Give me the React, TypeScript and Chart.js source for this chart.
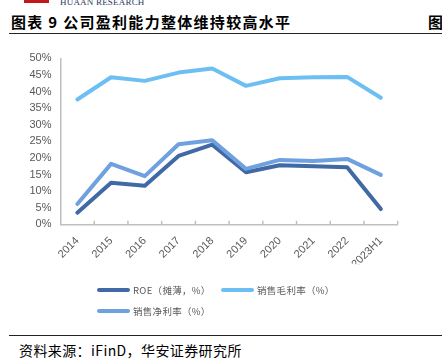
import React, { useEffect, useRef } from 'react';
import { Chart, registerables } from 'chart.js';

Chart.register(...registerables);

const categories = ['2014', '2015', '2016', '2017', '2018', '2019', '2020', '2021', '2022', '2023H1'];
const roe = [3.5, 12.5, 11.6, 20.6, 24.0, 15.7, 17.8, 17.5, 17.2, 4.6];
const grossMargin = [37.6, 44.3, 43.2, 45.7, 46.9, 41.7, 44.0, 44.3, 44.4, 38.1];
const netMargin = [6.1, 18.2, 14.5, 24.1, 25.3, 16.7, 19.4, 19.1, 19.7, 14.9];
const seriesNames = ['ROE（摊薄，%）', '销售毛利率（%）', '销售净利率（%）'];
const seriesColors = ['#4169a6', '#6dbff3', '#6fa1de'];
const yMin = 0;
const yMax = 50;
const yStep = 5;

const innerTicks = {
  id: 'innerTicks',
  afterDraw(chart: any) {
    const sx = chart.scales.x;
    const ctx = chart.ctx;
    ctx.save();
    ctx.strokeStyle = '#bfbfbf';
    ctx.lineWidth = 1.5;
    const n = categories.length;
    for (let i = 1; i <= n; i++) {
      const x = sx.getPixelForValue(i - 0.5);
      ctx.beginPath();
      ctx.moveTo(x, sx.top);
      ctx.lineTo(x, sx.top - 3.5);
      ctx.stroke();
    }
    ctx.restore();
  },
};

function LineChart() {
  const ref = useRef<HTMLCanvasElement>(null);
  useEffect(() => {
    if (!ref.current) return;
    const chart = new Chart(ref.current, {
      type: 'line',
      data: {
        labels: categories,
        datasets: [
          { label: seriesNames[0], data: roe, borderColor: seriesColors[0], order: 1 },
          { label: seriesNames[1], data: grossMargin, borderColor: seriesColors[1], order: 2 },
          { label: seriesNames[2], data: netMargin, borderColor: seriesColors[2], order: 0 },
        ].map((d) => ({
          ...d,
          borderWidth: 4,
          pointRadius: 0,
          tension: 0,
          fill: false,
          borderCapStyle: 'round' as const,
          borderJoinStyle: 'round' as const,
        })),
      },
      options: {
        animation: false,
        responsive: false,
        maintainAspectRatio: false,
        layout: { padding: { top: 58.3, left: 0, right: 44.3, bottom: 35.7 } },
        plugins: { legend: { display: false }, tooltip: { enabled: false } },
        scales: {
          x: {
            offset: true,
            grid: { display: false },
            border: { display: true, color: '#bfbfbf', width: 1.5 },
            ticks: {
              autoSkip: false,
              minRotation: 45,
              maxRotation: 45,
              padding: 2,
              color: '#595959',
              font: { family: "'Liberation Sans', Arial, sans-serif", size: 11 },
            },
            afterFit(scale: any) {
              scale.height = 40;
            },
          },
          y: {
            min: yMin,
            max: yMax,
            grid: { display: false, drawTicks: false },
            border: { display: true, color: '#bfbfbf', width: 1.5 },
            ticks: {
              stepSize: yStep,
              padding: 9,
              color: '#595959',
              font: { family: "'Liberation Sans', Arial, sans-serif", size: 11 },
              callback: (v: any) => v + '%',
            },
            afterFit(scale: any) {
              scale.width = 60.5;
            },
          },
        },
      },
      plugins: [innerTicks],
    });
    return () => chart.destroy();
  }, []);
  return (
    <canvas
      ref={ref}
      width={442}
      height={300}
      style={{ position: 'absolute', left: 0, top: 0, width: 442, height: 300 }}
    />
  );
}

const legendRows = [
  [
    { i: 0, x: 97 },
    { i: 1, x: 221 },
  ],
  [{ i: 2, x: 97 }],
];
const legendRowY = [290, 310.5];

export default function App() {
  const cjk = "'Noto Sans CJK SC', 'Noto Sans', sans-serif";
  return (
    <div
      style={{
        position: 'absolute',
        left: 0,
        top: 0,
        width: 442,
        height: 363,
        overflow: 'hidden',
        background: '#fff',
        fontFamily: cjk,
      }}
    >
      <div style={{ position: 'absolute', left: 24, top: 0, width: 25, height: 2.5, background: '#c5161d' }} />
      <div
        style={{
          position: 'absolute',
          left: 60,
          top: -2,
          fontFamily: "'Liberation Serif', serif",
          fontSize: 9,
          lineHeight: '9px',
          color: '#26385c',
          letterSpacing: 0.2,
          whiteSpace: 'nowrap',
        }}
      >
        HUAAN RESEARCH
      </div>
      <div
        style={{
          position: 'absolute',
          left: 11,
          top: 12,
          fontSize: 15,
          lineHeight: '20px',
          fontWeight: 700,
          letterSpacing: 1.3,
          color: '#000',
          whiteSpace: 'nowrap',
        }}
      >
        图表 9 公司盈利能力整体维持较高水平
      </div>
      <div
        style={{
          position: 'absolute',
          left: 428,
          top: 12,
          fontSize: 15,
          lineHeight: '20px',
          fontWeight: 700,
          color: '#000',
          whiteSpace: 'nowrap',
        }}
      >
        图
      </div>
      <div style={{ position: 'absolute', left: 9, top: 32.5, width: 433, height: 1.3, background: '#222' }} />
      <LineChart />
      {legendRows.map((row, r) =>
        row.map((it) => (
          <div key={it.i} style={{ position: 'absolute', left: it.x, top: legendRowY[r] - 8, height: 16, display: 'flex', alignItems: 'center', whiteSpace: 'nowrap' }}>
            <span style={{ display: 'inline-block', width: 33, height: 4, borderRadius: 2, background: seriesColors[it.i] }} />
            <span style={{ marginLeft: 3, fontSize: 9.5, color: '#595959', letterSpacing: 0.3 }}>{seriesNames[it.i]}</span>
          </div>
        ))
      )}
      <div style={{ position: 'absolute', left: 9, top: 335, width: 433, height: 1.3, background: '#222' }} />
      <div
        style={{
          position: 'absolute',
          left: 19,
          top: 341,
          fontSize: 14,
          lineHeight: '18px',
          letterSpacing: 0.4,
          color: '#000',
          whiteSpace: 'nowrap',
        }}
      >
        资料来源：iFinD，华安证券研究所
      </div>
    </div>
  );
}
